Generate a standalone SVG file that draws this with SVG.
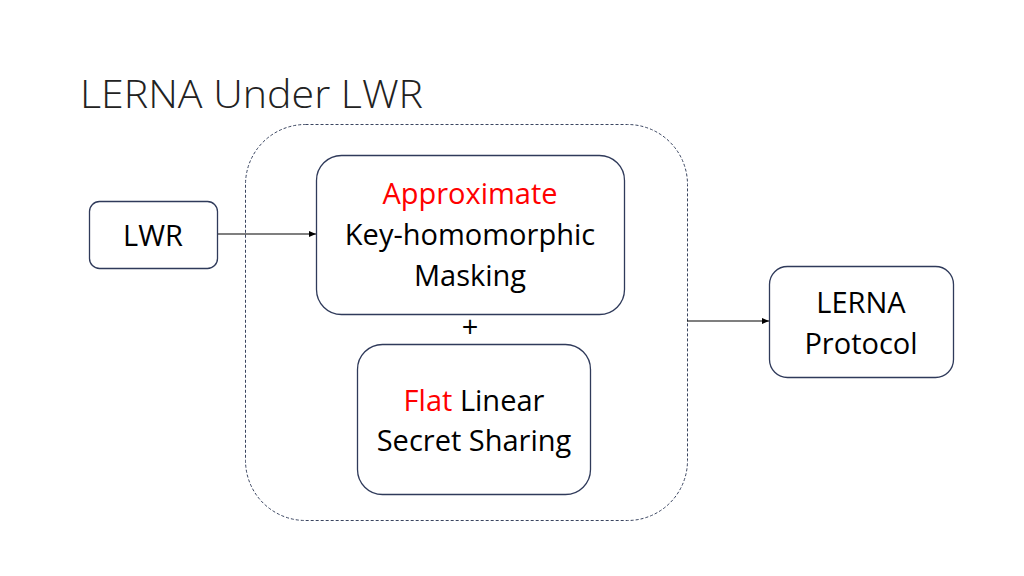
<svg xmlns="http://www.w3.org/2000/svg" width="1024" height="576" viewBox="0 0 1024 576">
<defs>
<style>
.box{fill:#fff;stroke:#2f3a5a;stroke-width:1.3}
.t{font-family:"Open Sans","Liberation Sans",sans-serif;font-size:29px;fill:#000;text-anchor:middle}
.r{fill:#ff0000}
.c{stroke:#000;stroke-width:1.1;fill:none}
</style>
<marker id="ah" markerWidth="8" markerHeight="8" refX="7" refY="4" orient="auto" markerUnits="userSpaceOnUse">
<path d="M0,1 L7,4 L0,7 Z" fill="#000"/>
</marker>
</defs>
<rect width="1024" height="576" fill="#fff"/>
<text x="80" y="108" font-family="Open Sans, Liberation Sans, sans-serif" font-size="38" font-weight="300" fill="#222" textLength="343" lengthAdjust="spacingAndGlyphs">LERNA Under LWR</text>
<g id="outer">
<rect x="245.5" y="124.5" width="442" height="396" rx="60" fill="none" stroke="#3a4560" stroke-width="1" stroke-dasharray="3,2"/>
</g>
<g id="connectors">
<line class="c" x1="217" y1="234" x2="316" y2="234" marker-end="url(#ah)"/>
<line class="c" x1="687" y1="321" x2="769" y2="321" marker-end="url(#ah)"/>
</g>
<g id="lwr">
<rect class="box" x="89.5" y="201.5" width="128" height="67" rx="10"/>
<text class="t" x="153" y="246">LWR</text>
</g>
<g id="masking">
<rect class="box" x="316.5" y="155.5" width="308" height="159" rx="25"/>
<text class="t r" x="470" y="204">Approximate</text>
<text class="t" x="470" y="245">Key-homomorphic</text>
<text class="t" x="470" y="286">Masking</text>
</g>
<g id="plus">
<text class="t" x="470" y="337" font-size="22">+</text>
</g>
<g id="sharing">
<rect class="box" x="357.5" y="344.5" width="233" height="150" rx="25"/>
<text class="t" x="474" y="411"><tspan class="r">Flat</tspan> Linear</text>
<text class="t" x="474" y="451">Secret Sharing</text>
</g>
<g id="lerna">
<rect class="box" x="769.5" y="266.5" width="184" height="111" rx="18"/>
<text class="t" x="861" y="313">LERNA</text>
<text class="t" x="861" y="354">Protocol</text>
</g>
</svg>
